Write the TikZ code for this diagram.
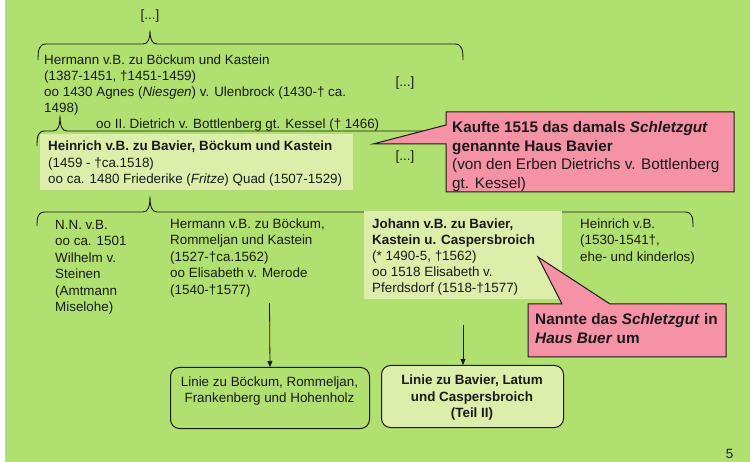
\documentclass[tikz,border=0pt]{standalone}
\usepackage{fontspec}
\setmainfont{Liberation Sans}
\usetikzlibrary{arrows.meta}
\definecolor{bggreen}{RGB}{176,224,112}
\definecolor{lightgreen}{RGB}{220,238,170}
\definecolor{calloutpink}{RGB}{246,146,166}
\definecolor{inkc}{RGB}{26,26,26}
\begin{document}
\begin{tikzpicture}[x=1pt,y=-1pt,
  brace/.style={draw=inkc, line width=0.9pt},
  txtblk/.style={anchor=north west, inner sep=0pt, align=left, text=inkc},
  dotsstyle/.style={anchor=base, inner sep=0pt, font=\fontsize{13.4}{16}\selectfont, text=inkc},
  plainbox/.style={fill=lightgreen, inner sep=0pt, anchor=north west},
  calloutshape/.style={fill=calloutpink, draw=inkc, line width=1pt, line join=miter},
  linebox/.style={draw=inkc, line width=1pt, rounded corners=9pt, inner sep=0pt, anchor=north west},
  arr/.style={draw=inkc, line width=0.8pt, -{Triangle[length=6pt,width=5pt]}}]
\useasboundingbox (0,0) rectangle (750,462);
\fill[white] (0,0) rectangle (750,462);
\fill[bggreen] (5,0) rectangle (750,462);

% braces
\draw[brace] (38,60) .. controls (38,50) and (39,44) .. (46,44) -- (143,44)
  .. controls (148,44) and (150,39) .. (150,30.5) .. controls (150,39) and (152,44) .. (157,44)
  -- (455,44) .. controls (462,44) and (463,50) .. (463,60);
\draw[brace] (37,146) .. controls (37,136) and (38,131) .. (45,131) -- (53,131)
  .. controls (58,131) and (60,126) .. (60,115.5) .. controls (60,126) and (62,131) .. (67,131)
  -- (460,131);
\draw[brace] (37,226) .. controls (37,217) and (38,212) .. (45,212) -- (143,212)
  .. controls (148,212) and (150,207) .. (150,196.5) .. controls (150,207) and (152,212) .. (157,212)
  -- (685,212) .. controls (692,212) and (693,217) .. (693,227);

% plain boxes
\node[plainbox, minimum width=313pt, minimum height=56pt] (heinbox) at (40,134) {};
\node[plainbox, minimum width=198pt, minimum height=88pt] (johbox) at (364,211) {};

% texts upper part
\node[dotsstyle] (topdots) at (150,19.5) {[...]};
\node[txtblk, font=\fontsize{13.4}{16}\selectfont] (hermann) at (44,53.2)
  {\strut Hermann v.B. zu Böckum und Kastein\\(1387-1451, †1451-1459)\\oo 1430 Agnes (\textit{Niesgen}) v. Ulenbrock (1430-† ca.\\1498)};
\node[dotsstyle] (dotsa) at (405,87) {[...]};
\node[anchor=base west, inner sep=0pt, font=\fontsize{13.4}{16}\selectfont, text=inkc] (dietrich) at (96,128.4)
  {oo II. Dietrich v. Bottlenberg gt. Kessel († 1466)};
\node[txtblk, font=\fontsize{13.4}{16.3}\selectfont] (heinrich) at (48,139.1)
  {\strut\textbf{Heinrich v.B. zu Bavier, Böckum und Kastein}\\(1459 - †ca.1518)\\oo ca. 1480 Friederike (\textit{Fritze}) Quad (1507-1529)};
\node[dotsstyle] (dotsb) at (405,160.5) {[...]};

% Kaufte callout
\coordinate (kaufteTip) at (373,144);
\path[calloutshape] (446,112) -- (734,112) -- (734,192) -- (446,192) -- (446,144) -- (kaufteTip) -- (446,125) -- cycle;
\node[txtblk, font=\fontsize{15.3}{18.5}\selectfont] (kaufte) at (452,119.4)
  {\strut\textbf{Kaufte 1515 das damals \textit{Schletzgut}}\\\textbf{genannte Haus Bavier}\\(von den Erben Dietrichs v. Bottlenberg\\gt. Kessel)};

% children
\node[txtblk, font=\fontsize{13.4}{16.5}\selectfont] (nn) at (55,217.75)
  {\strut N.N. v.B.\\oo ca. 1501\\Wilhelm v.\\Steinen\\(Amtmann\\Miselohe)};
\node[txtblk, font=\fontsize{13.4}{16.5}\selectfont] (hermanntwo) at (170,216.75)
  {\strut Hermann v.B. zu Böckum,\\Rommeljan und Kastein\\(1527-†ca.1562)\\oo Elisabeth v. Merode\\(1540-†1577)};
\node[txtblk, font=\fontsize{13.4}{16}\selectfont] (johann) at (372,217.1)
  {\strut\textbf{Johann v.B. zu Bavier,}\\\textbf{Kastein u. Caspersbroich}\\(* 1490-5, †1562)\\oo 1518 Elisabeth v.\\Pferdsdorf (1518-†1577)};
\node[txtblk, font=\fontsize{13.4}{16.4}\selectfont] (heinrichtwo) at (580,216.8)
  {\strut Heinrich v.B.\\(1530-1541†,\\ehe- und kinderlos)};

% Nannte callout
\coordinate (nannteTip) at (538,257);
\path[calloutshape] (528,304) -- (562,304) -- (nannteTip) -- (610,304) -- (726,304) -- (726,357) -- (528,357) -- cycle;
\node[txtblk, font=\fontsize{15.3}{19}\selectfont] (nannte) at (535,311)
  {\strut\textbf{Nannte das \textit{Schletzgut} in}\\\textbf{\textit{Haus Buer} um}};

% bottom boxes
\node[linebox, minimum width=199pt, minimum height=61pt] (box1) at (170,367) {};
\node[linebox, fill=lightgreen, minimum width=182pt, minimum height=62pt] (box2) at (381,365) {};
\node[anchor=north, inner sep=0pt, align=center, font=\fontsize{13.4}{15.7}\selectfont, text=inkc] (boxonetext) at (269.5,375.7)
  {\strut Linie zu Böckum, Rommeljan,\\Frankenberg und Hohenholz};
\node[anchor=north, inner sep=0pt, align=center, font=\fontsize{13.4}{16.5}\selectfont\bfseries, text=inkc] (boxtwotext) at (472,372.75)
  {\strut Linie zu Bavier, Latum\\und Caspersbroich\\(Teil II)};

% arrows
\coordinate (a1) at (269.5,303);
\coordinate (a2) at (463,325);
\draw[arr] (a1) -- (box1.north);
\draw[arr] (a2) -- (a2 |- box2.north);

% page number
\node[anchor=base, inner sep=0pt, font=\fontsize{13.4}{16}\selectfont, text=inkc] (pagenum) at (729.5,458) {5};
\end{tikzpicture}
\end{document}
